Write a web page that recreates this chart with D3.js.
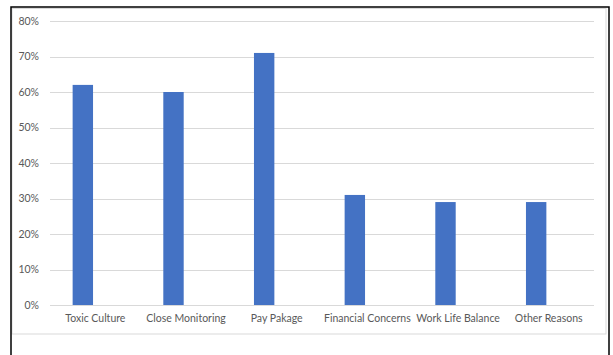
<!DOCTYPE html>
<html><head><meta charset="utf-8">
<script src="https://cdn.jsdelivr.net/npm/d3@7"></script>
<style>html,body{margin:0;padding:0;background:#fff;}svg{display:block;}</style>
</head><body>
<svg id="chart" width="613" height="355"></svg>
<script>
const categories = ["Toxic Culture","Close Monitoring","Pay Pakage","Financial Concerns","Work Life Balance","Other Reasons"];
const values = [0.62, 0.60, 0.71, 0.31, 0.29, 0.29];
const yTicks = [0, 0.1, 0.2, 0.3, 0.4, 0.5, 0.6, 0.7, 0.8];

const svg = d3.select("#chart");
const font = "Lato, 'Open Sans', sans-serif";
const textColor = "#595959";

// frame
svg.append("rect").attr("x",12).attr("y",8.5).attr("width",594).attr("height",325.5)
  .attr("fill","#fff").attr("stroke","#d9d9d9").attr("stroke-width",1);
svg.append("path").attr("d","M11,355V7H609V355").attr("fill","none").attr("stroke","#000").attr("stroke-width",1.5);

const x = d3.scaleBand().domain(categories).range([50, 594]).paddingInner(0).paddingOuter(0);
const y = d3.scaleLinear().domain([0, 0.8]).range([305, 21]);

// gridlines
svg.append("g").selectAll("line").data(yTicks).join("line")
  .attr("x1",50).attr("x2",594)
  .attr("y1",d=>Math.round(y(d))+0.5).attr("y2",d=>Math.round(y(d))+0.5)
  .attr("stroke","#d9d9d9").attr("stroke-width",1);

// y axis labels
const yAxis = d3.axisLeft(y).tickValues(yTicks).tickFormat(d3.format(".0%")).tickSize(0).tickPadding(11);
const ya = svg.append("g").attr("transform","translate(50,0)").call(yAxis);
ya.select(".domain").remove();
ya.selectAll("text").attr("fill",textColor).style("font-family",font).style("font-size","10.5px");

// bars
const barW = 20.4;
const barShift = -12.5;
svg.append("g").selectAll("rect").data(categories).join("rect")
  .attr("x",(d)=>x(d)+x.bandwidth()/2+barShift-barW/2)
  .attr("width",barW)
  .attr("y",(d,i)=>y(values[i]))
  .attr("height",(d,i)=>y(0)-y(values[i]))
  .attr("fill","#4472C4");

// x axis labels
const xAxis = d3.axisBottom(x).tickSize(0).tickPadding(10);
const xa = svg.append("g").attr("transform","translate(0,305)").call(xAxis);
xa.select(".domain").remove();
xa.selectAll("text").attr("fill",textColor).style("font-family",font).style("font-size","10.5px");
</script>
</body></html>
